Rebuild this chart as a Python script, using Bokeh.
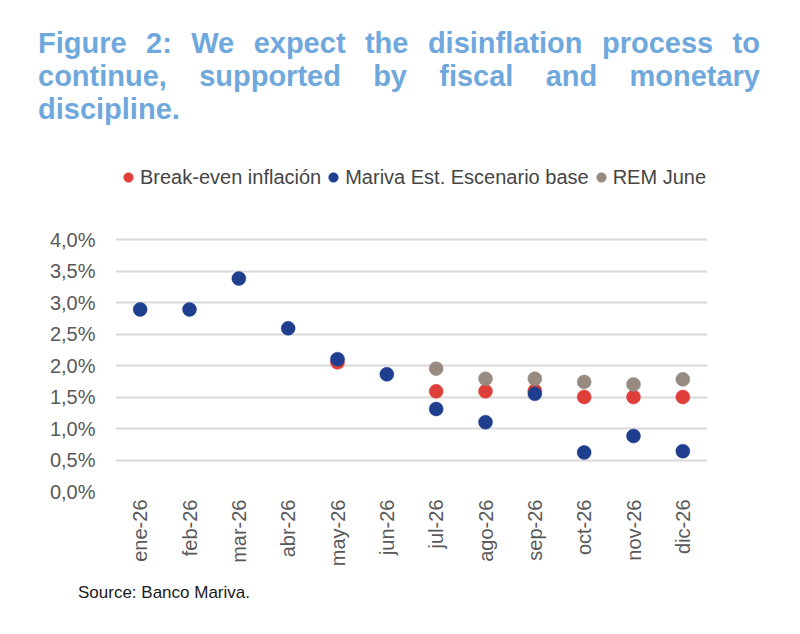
import math
from bokeh.plotting import figure
from bokeh.models import (ColumnDataSource, FactorRange, Range1d, FixedTicker,
                          CustomJSTickFormatter, Legend, LegendItem, Div)
from bokeh.layouts import column
from bokeh.embed import file_html
from bokeh.resources import INLINE

# ---- data (monthly inflation, %) ----
months = ["ene-26", "feb-26", "mar-26", "abr-26", "may-26", "jun-26",
          "jul-26", "ago-26", "sep-26", "oct-26", "nov-26", "dic-26"]
breakeven = [None, None, None, None, 2.05, None, 1.59, 1.59, 1.60, 1.50, 1.50, 1.50]
mariva = [2.89, 2.89, 3.38, 2.59, 2.10, 1.86, 1.31, 1.10, 1.55, 0.62, 0.88, 0.64]
rem = [None, None, None, None, None, None, 1.95, 1.79, 1.79, 1.74, 1.70, 1.78]
y_ticks = [0.0, 0.5, 1.0, 1.5, 2.0, 2.5, 3.0, 3.5, 4.0]

series_names = ["Break-even inflación", "Mariva Est. Escenario base", "REM June"]
series_colors = ["#DE3F38", "#1F3E8E", "#978A80"]

FONT = "Liberation Sans"

def make_source(vals):
    xs = [m for m, v in zip(months, vals) if v is not None]
    ys = [v for v in vals if v is not None]
    return ColumnDataSource(data=dict(x=xs, y=ys))

W = 800
H_TITLE = 143
H_FIG = 432
H_SRC = 59
BORDER_TOP = 17
BORDER_BOTTOM = 84
frame_h = H_FIG - BORDER_TOP - BORDER_BOTTOM
y_top = 4.0 * frame_h / 252.0

p = figure(x_range=FactorRange(*months), y_range=Range1d(0, y_top),
           width=W, height=H_FIG, output_backend="svg", toolbar_location=None,
           min_border_left=115, min_border_right=93,
           min_border_top=BORDER_TOP, min_border_bottom=BORDER_BOTTOM)

renderers = []
for vals, color in zip([breakeven, mariva, rem], series_colors):
    r = p.scatter(x="x", y="y", source=make_source(vals), size=14,
                  fill_color=color, line_color=color, line_width=0.5)
    renderers.append(r)

legend = Legend(items=[LegendItem(label=n, renderers=[r])
                       for n, r in zip(series_names, renderers)],
                orientation="horizontal", location="top_center",
                glyph_width=24, glyph_height=26, label_standoff=0, spacing=0,
                padding=0, margin=4, border_line_color=None,
                background_fill_alpha=0, label_text_font=FONT,
                label_text_font_size="20px", label_text_color="#454545")
p.add_layout(legend, "center")

p.outline_line_color = None
p.xgrid.visible = False
p.ygrid.grid_line_color = "#D9D9D9"
p.ygrid.grid_line_width = 2

p.yaxis.ticker = FixedTicker(ticks=y_ticks)
p.yaxis.formatter = CustomJSTickFormatter(
    code="return tick.toFixed(1).replace('.', ',') + '%';")
for ax in (p.xaxis, p.yaxis):
    ax.axis_line_color = None
    ax.major_tick_line_color = None
    ax.minor_tick_line_color = None
    ax.major_tick_out = 0
    ax.major_tick_in = 0
    ax.major_label_text_font = FONT
    ax.major_label_text_font_size = "20px"
    ax.major_label_text_color = "#595959"
p.yaxis.major_label_standoff = 20
p.xaxis.major_label_standoff = 8
p.xaxis.major_label_orientation = math.pi / 2

title_style = "text-align:justify;text-align-last:justify"
title_html = (
    '<div style="width:760px;padding:27px 0 0 38px;font-family:\'Liberation Sans\',Arial,sans-serif;'
    'font-weight:bold;font-size:29px;line-height:33px;color:#6FA8DC">'
    f'<div style="{title_style}">Figure 2: We expect the disinflation process to</div>'
    f'<div style="{title_style}">continue, supported by fiscal and monetary</div>'
    '<div style="text-align:left">discipline.</div>'
    '</div>'
)
title_div = Div(text=title_html, width=W, height=H_TITLE, margin=(0, 0, 0, 0))

source_html = ('<div style="padding:8px 0 0 78px;font-family:\'Liberation Sans\',Arial,sans-serif;'
               'font-size:17px;line-height:20px;color:#1A1A1A">Source: Banco Mariva.</div>')
source_div = Div(text=source_html, width=W, height=H_SRC, margin=(0, 0, 0, 0))

layout = column(title_div, p, source_div, spacing=0)

open("out.html", "w").write(file_html(layout, INLINE))
